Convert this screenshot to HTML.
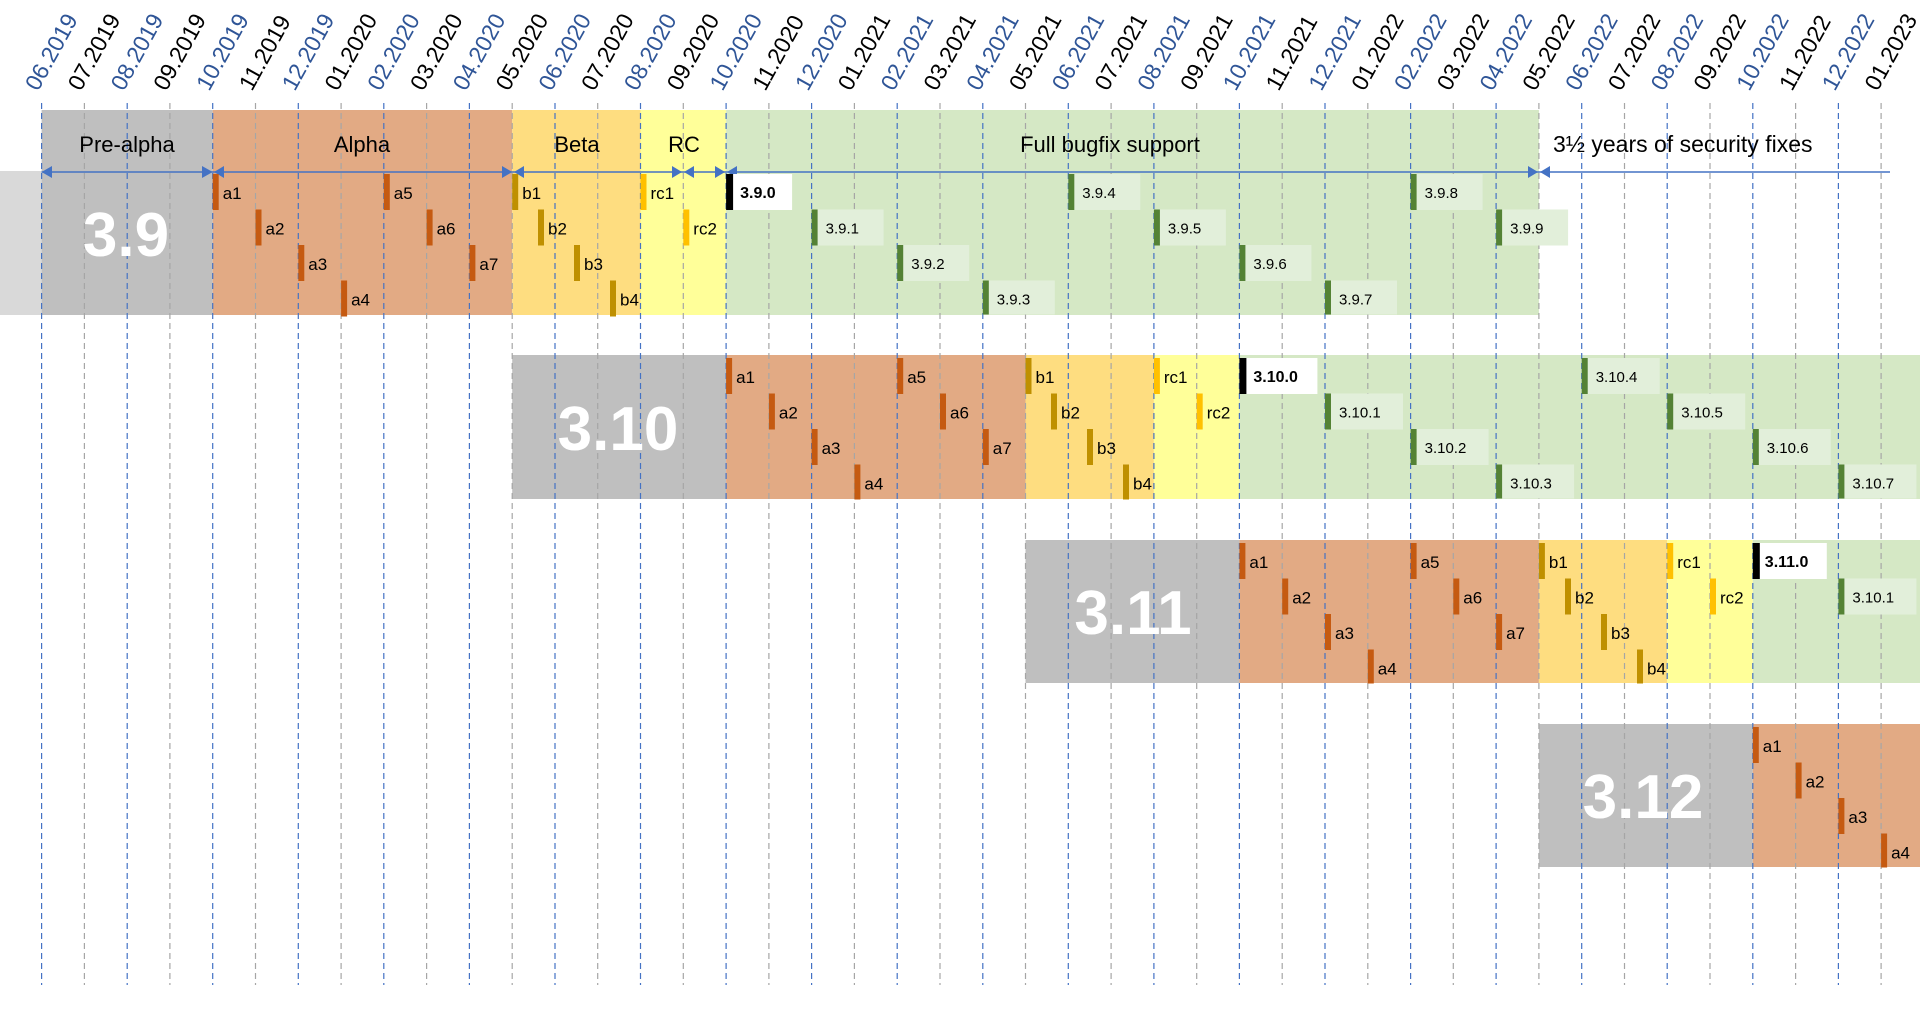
<!DOCTYPE html>
<html><head><meta charset="utf-8"><style>
html,body{margin:0;padding:0;background:#fff;}
svg{display:block;font-family:"Liberation Sans",sans-serif;}
.a rect{fill:#c55a11}.b rect{fill:#bf9000}.r rect{fill:#ffc000}
.m text{font-size:17px;fill:#000}
.v rect.bx{fill:#e2efda}.v rect.br{fill:#548235}.v text{font-size:15px;fill:#000}
.z rect.bx{fill:#fff}.z rect.br{fill:#000}.z text{font-size:16px;font-weight:bold}
.tk text{font-size:23px}
.big{font-size:62px;font-weight:bold;fill:#fff;text-anchor:middle}
.ph{font-size:22px;text-anchor:middle}
</style></head><body>
<svg width="1920" height="1015" viewBox="0 0 1920 1015">
<rect x="0" y="171" width="41.6" height="144" fill="#d9d9d9"/>
<rect x="41.6" y="110" width="171.1" height="205" fill="#bfbfbf"/>
<rect x="212.7" y="110" width="299.5" height="205" fill="#e2aa84"/>
<rect x="512.2" y="110" width="128.3" height="205" fill="#fedd80"/>
<rect x="640.5" y="110" width="85.6" height="205" fill="#ffff99"/>
<rect x="726.1" y="110" width="812.8" height="205" fill="#d5e8c5"/>

<rect x="512.2" y="355" width="213.9" height="144" fill="#bfbfbf"/>
<rect x="726.1" y="355" width="299.4" height="144" fill="#e2aa84"/>
<rect x="1025.5" y="355" width="128.4" height="144" fill="#fedd80"/>
<rect x="1153.9" y="355" width="85.5" height="144" fill="#ffff99"/>
<rect x="1239.4" y="355" width="680.6" height="144" fill="#d5e8c5"/>

<rect x="1025.5" y="540" width="213.9" height="143" fill="#bfbfbf"/>
<rect x="1239.4" y="540" width="299.5" height="143" fill="#e2aa84"/>
<rect x="1538.9" y="540" width="128.3" height="143" fill="#fedd80"/>
<rect x="1667.2" y="540" width="85.6" height="143" fill="#ffff99"/>
<rect x="1752.8" y="540" width="167.2" height="143" fill="#d5e8c5"/>

<rect x="1538.9" y="724" width="213.9" height="143" fill="#bfbfbf"/>
<rect x="1752.8" y="724" width="167.2" height="143" fill="#e2aa84"/>

<g stroke-width="1.2" stroke-dasharray="6,4">
<g stroke="#4472c4">
<line x1="41.6" y1="103" x2="41.6" y2="985"/><line x1="127.2" y1="103" x2="127.2" y2="985"/><line x1="212.7" y1="103" x2="212.7" y2="985"/><line x1="298.3" y1="103" x2="298.3" y2="985"/><line x1="383.8" y1="103" x2="383.8" y2="985"/><line x1="469.4" y1="103" x2="469.4" y2="985"/><line x1="555" y1="103" x2="555" y2="985"/><line x1="640.5" y1="103" x2="640.5" y2="985"/><line x1="726.1" y1="103" x2="726.1" y2="985"/><line x1="811.6" y1="103" x2="811.6" y2="985"/><line x1="897.2" y1="103" x2="897.2" y2="985"/><line x1="982.8" y1="103" x2="982.8" y2="985"/><line x1="1068.3" y1="103" x2="1068.3" y2="985"/><line x1="1153.9" y1="103" x2="1153.9" y2="985"/><line x1="1239.4" y1="103" x2="1239.4" y2="985"/><line x1="1325" y1="103" x2="1325" y2="985"/><line x1="1410.6" y1="103" x2="1410.6" y2="985"/><line x1="1496.1" y1="103" x2="1496.1" y2="985"/><line x1="1581.7" y1="103" x2="1581.7" y2="985"/><line x1="1667.2" y1="103" x2="1667.2" y2="985"/><line x1="1752.8" y1="103" x2="1752.8" y2="985"/><line x1="1838.4" y1="103" x2="1838.4" y2="985"/>
</g>
<g stroke="#a6a6a6">
<line x1="84.4" y1="103" x2="84.4" y2="985"/><line x1="169.9" y1="103" x2="169.9" y2="985"/><line x1="255.5" y1="103" x2="255.5" y2="985"/><line x1="341.1" y1="103" x2="341.1" y2="985"/><line x1="426.6" y1="103" x2="426.6" y2="985"/><line x1="512.2" y1="103" x2="512.2" y2="985"/><line x1="597.7" y1="103" x2="597.7" y2="985"/><line x1="683.3" y1="103" x2="683.3" y2="985"/><line x1="768.9" y1="103" x2="768.9" y2="985"/><line x1="854.4" y1="103" x2="854.4" y2="985"/><line x1="940" y1="103" x2="940" y2="985"/><line x1="1025.5" y1="103" x2="1025.5" y2="985"/><line x1="1111.1" y1="103" x2="1111.1" y2="985"/><line x1="1196.7" y1="103" x2="1196.7" y2="985"/><line x1="1282.2" y1="103" x2="1282.2" y2="985"/><line x1="1367.8" y1="103" x2="1367.8" y2="985"/><line x1="1453.3" y1="103" x2="1453.3" y2="985"/><line x1="1538.9" y1="103" x2="1538.9" y2="985"/><line x1="1624.5" y1="103" x2="1624.5" y2="985"/><line x1="1710" y1="103" x2="1710" y2="985"/><line x1="1795.6" y1="103" x2="1795.6" y2="985"/><line x1="1881.1" y1="103" x2="1881.1" y2="985"/>
</g></g>

<g class="tk">
<g fill="#2f5597">
<text transform="translate(38,92) rotate(-61)">06.2019</text><text transform="translate(123.6,92) rotate(-61)">08.2019</text><text transform="translate(209.1,92) rotate(-61)">10.2019</text><text transform="translate(294.7,92) rotate(-61)">12.2019</text><text transform="translate(380.2,92) rotate(-61)">02.2020</text><text transform="translate(465.8,92) rotate(-61)">04.2020</text><text transform="translate(551.4,92) rotate(-61)">06.2020</text><text transform="translate(636.9,92) rotate(-61)">08.2020</text><text transform="translate(722.5,92) rotate(-61)">10.2020</text><text transform="translate(808,92) rotate(-61)">12.2020</text><text transform="translate(893.6,92) rotate(-61)">02.2021</text><text transform="translate(979.2,92) rotate(-61)">04.2021</text><text transform="translate(1064.7,92) rotate(-61)">06.2021</text><text transform="translate(1150.3,92) rotate(-61)">08.2021</text><text transform="translate(1235.8,92) rotate(-61)">10.2021</text><text transform="translate(1321.4,92) rotate(-61)">12.2021</text><text transform="translate(1407,92) rotate(-61)">02.2022</text><text transform="translate(1492.5,92) rotate(-61)">04.2022</text><text transform="translate(1578.1,92) rotate(-61)">06.2022</text><text transform="translate(1663.6,92) rotate(-61)">08.2022</text><text transform="translate(1749.2,92) rotate(-61)">10.2022</text><text transform="translate(1834.8,92) rotate(-61)">12.2022</text>
</g>
<g fill="#000">
<text transform="translate(80.8,92) rotate(-61)">07.2019</text><text transform="translate(166.3,92) rotate(-61)">09.2019</text><text transform="translate(251.9,92) rotate(-61)">11.2019</text><text transform="translate(337.5,92) rotate(-61)">01.2020</text><text transform="translate(423,92) rotate(-61)">03.2020</text><text transform="translate(508.6,92) rotate(-61)">05.2020</text><text transform="translate(594.1,92) rotate(-61)">07.2020</text><text transform="translate(679.7,92) rotate(-61)">09.2020</text><text transform="translate(765.3,92) rotate(-61)">11.2020</text><text transform="translate(850.8,92) rotate(-61)">01.2021</text><text transform="translate(936.4,92) rotate(-61)">03.2021</text><text transform="translate(1021.9,92) rotate(-61)">05.2021</text><text transform="translate(1107.5,92) rotate(-61)">07.2021</text><text transform="translate(1193.1,92) rotate(-61)">09.2021</text><text transform="translate(1278.6,92) rotate(-61)">11.2021</text><text transform="translate(1364.2,92) rotate(-61)">01.2022</text><text transform="translate(1449.7,92) rotate(-61)">03.2022</text><text transform="translate(1535.3,92) rotate(-61)">05.2022</text><text transform="translate(1620.9,92) rotate(-61)">07.2022</text><text transform="translate(1706.4,92) rotate(-61)">09.2022</text><text transform="translate(1792,92) rotate(-61)">11.2022</text><text transform="translate(1877.5,92) rotate(-61)">01.2023</text>
</g></g>

<text class="ph" x="127" y="152">Pre-alpha</text>
<text class="ph" x="362" y="152">Alpha</text>
<text class="ph" x="577" y="152">Beta</text>
<text class="ph" x="684" y="152">RC</text>
<text class="ph" x="1110" y="152">Full bugfix support</text>
<text x="1553" y="152" font-size="23">3½ years of security fixes</text>

<line x1="41.6" y1="172" x2="1890" y2="172" stroke="#4472c4" stroke-width="1.5"/>
<g fill="#4472c4">
<polygon points="41.6,172 52,166 52,178"/>
<polygon points="212.7,172 202,166 202,178"/><polygon points="214,172 224,166 224,178"/>
<polygon points="512.2,172 502,166 502,178"/><polygon points="514,172 524,166 524,178"/>
<polygon points="682,172 672,166 672,178"/><polygon points="684,172 694,166 694,178"/>
<polygon points="725,172 715,166 715,178"/><polygon points="727,172 737,166 737,178"/>
<polygon points="1538,172 1528,166 1528,178"/><polygon points="1540,172 1550,166 1550,178"/>
</g>

<text class="big" x="126" y="256">3.9</text>
<text class="big" x="618" y="450">3.10</text>
<text class="big" x="1133" y="634">3.11</text>
<text class="big" x="1643" y="818">3.12</text>

<g class="m">
<g class="a">
<g transform="translate(212.7,174)"><rect width="6" height="36"/><text x="10" y="25">a1</text></g>
<g transform="translate(255.5,209.5)"><rect width="6" height="36"/><text x="10" y="25">a2</text></g>
<g transform="translate(298.3,245)"><rect width="6" height="36"/><text x="10" y="25">a3</text></g>
<g transform="translate(341.1,280.5)"><rect width="6" height="36"/><text x="10" y="25">a4</text></g>
<g transform="translate(383.8,174)"><rect width="6" height="36"/><text x="10" y="25">a5</text></g>
<g transform="translate(426.6,209.5)"><rect width="6" height="36"/><text x="10" y="25">a6</text></g>
<g transform="translate(469.4,245)"><rect width="6" height="36"/><text x="10" y="25">a7</text></g>
</g>
<g class="b">
<g transform="translate(512.2,174)"><rect width="6" height="36"/><text x="10" y="25">b1</text></g>
<g transform="translate(538,209.5)"><rect width="6" height="36"/><text x="10" y="25">b2</text></g>
<g transform="translate(574,245)"><rect width="6" height="36"/><text x="10" y="25">b3</text></g>
<g transform="translate(610,280.5)"><rect width="6" height="36"/><text x="10" y="25">b4</text></g>
</g>
<g class="r">
<g transform="translate(640.5,174)"><rect width="6" height="36"/><text x="10" y="25">rc1</text></g>
<g transform="translate(683.3,209.5)"><rect width="6" height="36"/><text x="10" y="25">rc2</text></g>
</g>
</g>
<g class="z"><g transform="translate(726.1,174)"><rect class="bx" x="6" width="60" height="36"/><rect class="br" width="7" height="36"/><text x="14" y="24">3.9.0</text></g></g>
<g class="v">
<g transform="translate(811.6,209.5)"><rect class="bx" x="6" width="66" height="36"/><rect class="br" width="6" height="36"/><text x="14" y="24">3.9.1</text></g>
<g transform="translate(897.2,245)"><rect class="bx" x="6" width="66" height="36"/><rect class="br" width="6" height="36"/><text x="14" y="24">3.9.2</text></g>
<g transform="translate(982.8,280.5)"><rect class="bx" x="6" width="66" height="34"/><rect class="br" width="6" height="34"/><text x="14" y="24">3.9.3</text></g>
<g transform="translate(1068.3,174)"><rect class="bx" x="6" width="66" height="36"/><rect class="br" width="6" height="36"/><text x="14" y="24">3.9.4</text></g>
<g transform="translate(1153.9,209.5)"><rect class="bx" x="6" width="66" height="36"/><rect class="br" width="6" height="36"/><text x="14" y="24">3.9.5</text></g>
<g transform="translate(1239.4,245)"><rect class="bx" x="6" width="66" height="36"/><rect class="br" width="6" height="36"/><text x="14" y="24">3.9.6</text></g>
<g transform="translate(1325,280.5)"><rect class="bx" x="6" width="66" height="34"/><rect class="br" width="6" height="34"/><text x="14" y="24">3.9.7</text></g>
<g transform="translate(1410.6,174)"><rect class="bx" x="6" width="66" height="36"/><rect class="br" width="6" height="36"/><text x="14" y="24">3.9.8</text></g>
<g transform="translate(1496.1,209.5)"><rect class="bx" x="6" width="66" height="36"/><rect class="br" width="6" height="36"/><text x="14" y="24">3.9.9</text></g>
</g>

<g class="m">
<g class="a">
<g transform="translate(726.1,358)"><rect width="6" height="36"/><text x="10" y="25">a1</text></g>
<g transform="translate(768.9,393.5)"><rect width="6" height="36"/><text x="10" y="25">a2</text></g>
<g transform="translate(811.6,429)"><rect width="6" height="36"/><text x="10" y="25">a3</text></g>
<g transform="translate(854.4,464.5)"><rect width="6" height="35"/><text x="10" y="25">a4</text></g>
<g transform="translate(897.2,358)"><rect width="6" height="36"/><text x="10" y="25">a5</text></g>
<g transform="translate(940,393.5)"><rect width="6" height="36"/><text x="10" y="25">a6</text></g>
<g transform="translate(982.8,429)"><rect width="6" height="36"/><text x="10" y="25">a7</text></g>
</g>
<g class="b">
<g transform="translate(1025.5,358)"><rect width="6" height="36"/><text x="10" y="25">b1</text></g>
<g transform="translate(1051,393.5)"><rect width="6" height="36"/><text x="10" y="25">b2</text></g>
<g transform="translate(1087,429)"><rect width="6" height="36"/><text x="10" y="25">b3</text></g>
<g transform="translate(1123,464.5)"><rect width="6" height="35"/><text x="10" y="25">b4</text></g>
</g>
<g class="r">
<g transform="translate(1153.9,358)"><rect width="6" height="36"/><text x="10" y="25">rc1</text></g>
<g transform="translate(1196.7,393.5)"><rect width="6" height="36"/><text x="10" y="25">rc2</text></g>
</g>
</g>
<g class="z"><g transform="translate(1239.4,358)"><rect class="bx" x="6" width="72" height="36"/><rect class="br" width="7" height="36"/><text x="14" y="24">3.10.0</text></g></g>
<g class="v">
<g transform="translate(1325,393.5)"><rect class="bx" x="6" width="72" height="36"/><rect class="br" width="6" height="36"/><text x="14" y="24">3.10.1</text></g>
<g transform="translate(1410.6,429)"><rect class="bx" x="6" width="72" height="36"/><rect class="br" width="6" height="36"/><text x="14" y="24">3.10.2</text></g>
<g transform="translate(1496.1,464.5)"><rect class="bx" x="6" width="72" height="34"/><rect class="br" width="6" height="34"/><text x="14" y="24">3.10.3</text></g>
<g transform="translate(1581.7,358)"><rect class="bx" x="6" width="72" height="36"/><rect class="br" width="6" height="36"/><text x="14" y="24">3.10.4</text></g>
<g transform="translate(1667.2,393.5)"><rect class="bx" x="6" width="72" height="36"/><rect class="br" width="6" height="36"/><text x="14" y="24">3.10.5</text></g>
<g transform="translate(1752.8,429)"><rect class="bx" x="6" width="72" height="36"/><rect class="br" width="6" height="36"/><text x="14" y="24">3.10.6</text></g>
<g transform="translate(1838.4,464.5)"><rect class="bx" x="6" width="72" height="34"/><rect class="br" width="6" height="34"/><text x="14" y="24">3.10.7</text></g>
</g>

<g class="m">
<g class="a">
<g transform="translate(1239.4,543)"><rect width="6" height="36"/><text x="10" y="25">a1</text></g>
<g transform="translate(1282.2,578.5)"><rect width="6" height="36"/><text x="10" y="25">a2</text></g>
<g transform="translate(1325,614)"><rect width="6" height="36"/><text x="10" y="25">a3</text></g>
<g transform="translate(1367.8,649.5)"><rect width="6" height="34"/><text x="10" y="25">a4</text></g>
<g transform="translate(1410.6,543)"><rect width="6" height="36"/><text x="10" y="25">a5</text></g>
<g transform="translate(1453.3,578.5)"><rect width="6" height="36"/><text x="10" y="25">a6</text></g>
<g transform="translate(1496.1,614)"><rect width="6" height="36"/><text x="10" y="25">a7</text></g>
</g>
<g class="b">
<g transform="translate(1538.9,543)"><rect width="6" height="36"/><text x="10" y="25">b1</text></g>
<g transform="translate(1565,578.5)"><rect width="6" height="36"/><text x="10" y="25">b2</text></g>
<g transform="translate(1601,614)"><rect width="6" height="36"/><text x="10" y="25">b3</text></g>
<g transform="translate(1637,649.5)"><rect width="6" height="34"/><text x="10" y="25">b4</text></g>
</g>
<g class="r">
<g transform="translate(1667.2,543)"><rect width="6" height="36"/><text x="10" y="25">rc1</text></g>
<g transform="translate(1710,578.5)"><rect width="6" height="36"/><text x="10" y="25">rc2</text></g>
</g>
</g>
<g class="z"><g transform="translate(1752.8,543)"><rect class="bx" x="6" width="68" height="36"/><rect class="br" width="7" height="36"/><text x="12" y="24">3.11.0</text></g></g>
<g class="v">
<g transform="translate(1838.4,578.5)"><rect class="bx" x="6" width="72" height="36"/><rect class="br" width="6" height="36"/><text x="14" y="24">3.10.1</text></g>
</g>

<g class="m"><g class="a">
<g transform="translate(1752.8,727)"><rect width="6" height="36"/><text x="10" y="25">a1</text></g>
<g transform="translate(1795.6,762.5)"><rect width="6" height="36"/><text x="10" y="25">a2</text></g>
<g transform="translate(1838.4,798)"><rect width="6" height="36"/><text x="10" y="25">a3</text></g>
<g transform="translate(1881.1,833.5)"><rect width="6" height="34"/><text x="10" y="25">a4</text></g>
</g></g>
</svg>
</body></html>
